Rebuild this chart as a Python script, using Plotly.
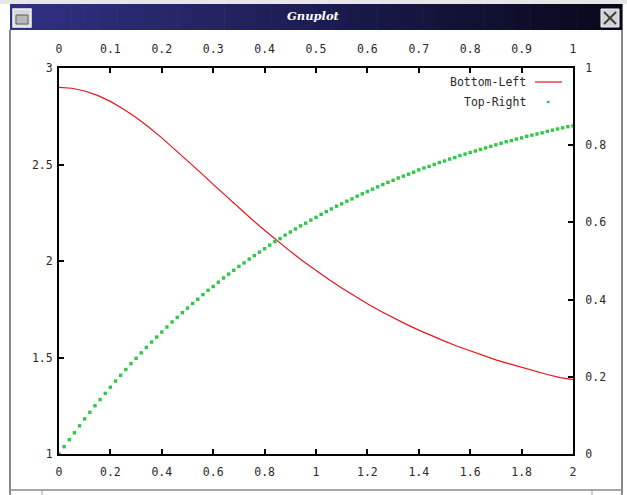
import plotly.graph_objects as go

# ---- data ----
red_x = [0.00, 0.05, 0.10, 0.15, 0.20, 0.25, 0.30, 0.35, 0.40, 0.45,
         0.50, 0.55, 0.60, 0.65, 0.70, 0.75, 0.80, 0.85, 0.90, 0.95,
         1.00, 1.05, 1.10, 1.15, 1.20, 1.25, 1.30, 1.35, 1.40, 1.45,
         1.50, 1.55, 1.60, 1.65, 1.70, 1.75, 1.80, 1.85, 1.90, 1.95, 2.00]
red_y = [2.900, 2.895, 2.881, 2.858, 2.827, 2.788, 2.743, 2.693, 2.638, 2.580,
         2.520, 2.459, 2.397, 2.336, 2.275, 2.216, 2.159, 2.103, 2.050, 1.999,
         1.950, 1.904, 1.860, 1.818, 1.779, 1.741, 1.706, 1.673, 1.642, 1.612,
         1.585, 1.558, 1.534, 1.510, 1.488, 1.468, 1.448, 1.430, 1.412, 1.396, 1.385]

green_x = [0.00, 0.01, 0.02, 0.03, 0.04, 0.05, 0.06, 0.07, 0.08, 0.09,
           0.10, 0.11, 0.12, 0.13, 0.14, 0.15, 0.16, 0.17, 0.18, 0.19,
           0.20, 0.21, 0.22, 0.23, 0.24, 0.25, 0.26, 0.27, 0.28, 0.29,
           0.30, 0.31, 0.32, 0.33, 0.34, 0.35, 0.36, 0.37, 0.38, 0.39,
           0.40, 0.41, 0.42, 0.43, 0.44, 0.45, 0.46, 0.47, 0.48, 0.49,
           0.50, 0.51, 0.52, 0.53, 0.54, 0.55, 0.56, 0.57, 0.58, 0.59,
           0.60, 0.61, 0.62, 0.63, 0.64, 0.65, 0.66, 0.67, 0.68, 0.69,
           0.70, 0.71, 0.72, 0.73, 0.74, 0.75, 0.76, 0.77, 0.78, 0.79,
           0.80, 0.81, 0.82, 0.83, 0.84, 0.85, 0.86, 0.87, 0.88, 0.89,
           0.90, 0.91, 0.92, 0.93, 0.94, 0.95, 0.96, 0.97, 0.98, 0.99, 1.00]
green_y = [0.000, 0.019, 0.037, 0.055, 0.073, 0.091, 0.108, 0.125, 0.141, 0.157,
           0.173, 0.189, 0.204, 0.219, 0.234, 0.248, 0.262, 0.276, 0.290, 0.303,
           0.316, 0.329, 0.342, 0.354, 0.366, 0.378, 0.390, 0.401, 0.413, 0.424,
           0.434, 0.445, 0.456, 0.466, 0.476, 0.486, 0.495, 0.505, 0.514, 0.523,
           0.532, 0.541, 0.550, 0.558, 0.567, 0.575, 0.583, 0.591, 0.598, 0.606,
           0.613, 0.621, 0.628, 0.635, 0.642, 0.648, 0.655, 0.661, 0.668, 0.674,
           0.680, 0.686, 0.692, 0.698, 0.704, 0.709, 0.715, 0.720, 0.725, 0.730,
           0.736, 0.741, 0.745, 0.750, 0.755, 0.759, 0.764, 0.768, 0.773, 0.777,
           0.781, 0.785, 0.789, 0.793, 0.797, 0.801, 0.805, 0.809, 0.812, 0.816,
           0.819, 0.823, 0.826, 0.829, 0.832, 0.836, 0.839, 0.842, 0.845, 0.848, 0.850]

series_names = ["Bottom-Left", "Top-Right"]
window_title = "Gnuplot"

# ---- layout geometry ----
W, H = 627, 495
L, R, T, B = 59, 573, 68, 454          # plot box in pixels
PW, PH = R - L, B - T


def px(x):
    return (x - L) / PW


def py(y):
    return (B - y) / PH


FONT = "DejaVu Sans Mono"
TXT = "#2a2a2a"
RED = "#e8141e"
GREEN = "#2cc846"

fig = go.Figure()
fig.add_trace(go.Scatter(x=red_x, y=red_y, mode="lines", name=series_names[0],
                         line=dict(color=RED, width=1.2), xaxis="x", yaxis="y",
                         showlegend=False))
fig.add_trace(go.Scatter(x=green_x, y=green_y, mode="markers", name=series_names[1],
                         marker=dict(color=GREEN, size=3.4, symbol="square",
                                     line=dict(width=0)),
                         xaxis="x2", yaxis="y2", showlegend=False))

axis_common = dict(showgrid=False, zeroline=False, showline=True, linecolor="black",
                   linewidth=2, ticks="inside", ticklen=5, tickwidth=2,
                   tickcolor="black", tickfont=dict(family=FONT, size=11.5, color=TXT))

fig.update_layout(
    width=W, height=H,
    margin=dict(l=L, r=W - R, t=T, b=H - B, pad=0),
    paper_bgcolor="white", plot_bgcolor="white",
    xaxis=dict(range=[0, 2], dtick=0.2, tick0=0, ticklabelstandoff=6, **axis_common),
    xaxis2=dict(range=[0, 1], dtick=0.1, tick0=0, overlaying="x", side="top",
                anchor="y", ticklabelstandoff=8, **axis_common),
    yaxis=dict(range=[1, 3], dtick=0.5, tick0=1, ticklabelstandoff=2, **axis_common),
    yaxis2=dict(range=[0, 1], dtick=0.2, tick0=0, overlaying="y", side="right",
                anchor="x", ticklabelstandoff=8, **axis_common),
)

shapes = []
annotations = []

# window chrome: title bar gradient strips
x_left, x_right = 10, 622
y_top, y_bot = 4, 30
n = 40
c0 = (48, 48, 132)
c1 = (8, 8, 28)
for i in range(n):
    t = i / (n - 1)
    c = tuple(int(round(c0[k] + (c1[k] - c0[k]) * t)) for k in range(3))
    xa = x_left + (x_right - x_left) * i / n
    xb = x_left + (x_right - x_left) * (i + 1) / n + 0.6
    shapes.append(dict(type="rect", xref="paper", yref="paper",
                       x0=px(xa), x1=px(xb), y0=py(y_bot), y1=py(y_top),
                       fillcolor="rgb(%d,%d,%d)" % c, line=dict(width=0), layer="above"))
# light strip above title bar
shapes.append(dict(type="rect", xref="paper", yref="paper",
                   x0=px(0), x1=px(W), y0=py(y_top), y1=py(0),
                   fillcolor="#e6e6e6", line=dict(width=0), layer="above"))
# left icon
shapes.append(dict(type="rect", xref="paper", yref="paper",
                   x0=px(13), x1=px(31), y0=py(27), y1=py(9),
                   fillcolor="#d8d8d8", line=dict(color="#f4f4f4", width=1.5), layer="above"))
shapes.append(dict(type="rect", xref="paper", yref="paper",
                   x0=px(16), x1=px(28), y0=py(24), y1=py(15),
                   fillcolor="#b8b8b8", line=dict(color="#606060", width=1), layer="above"))
# close button
shapes.append(dict(type="rect", xref="paper", yref="paper",
                   x0=px(601), x1=px(619), y0=py(27), y1=py(9),
                   fillcolor="#d4d4d4", line=dict(color="#f0f0f0", width=1), layer="above"))
shapes.append(dict(type="line", xref="paper", yref="paper",
                   x0=px(604), x1=px(616), y0=py(12), y1=py(24),
                   line=dict(color="#404040", width=2), layer="above"))
shapes.append(dict(type="line", xref="paper", yref="paper",
                   x0=px(604), x1=px(616), y0=py(24), y1=py(12),
                   line=dict(color="#404040", width=2), layer="above"))
# window side frames
shapes.append(dict(type="line", xref="paper", yref="paper",
                   x0=px(10), x1=px(10), y0=py(495), y1=py(30),
                   line=dict(color="#8a8a8a", width=2), layer="above"))
shapes.append(dict(type="line", xref="paper", yref="paper",
                   x0=px(622), x1=px(622), y0=py(495), y1=py(30),
                   line=dict(color="#8a8a8a", width=2), layer="above"))
# bottom status line
shapes.append(dict(type="line", xref="paper", yref="paper",
                   x0=px(10), x1=px(622), y0=py(490), y1=py(490),
                   line=dict(color="#8a8a8a", width=1.5), layer="above"))
shapes.append(dict(type="line", xref="paper", yref="paper",
                   x0=px(42), x1=px(42), y0=py(495), y1=py(490),
                   line=dict(color="#9a9a9a", width=1), layer="above"))
shapes.append(dict(type="line", xref="paper", yref="paper",
                   x0=px(592), x1=px(592), y0=py(495), y1=py(490),
                   line=dict(color="#9a9a9a", width=1), layer="above"))

annotations.append(dict(text="<b><i>%s</i></b>" % window_title, xref="paper", yref="paper",
                        x=px(313), y=py(16), xanchor="center", yanchor="middle",
                        showarrow=False, font=dict(family="DejaVu Serif", size=11.5, color="white")))

# legend (gnuplot style: text then sample)
annotations.append(dict(text=series_names[0], xref="paper", yref="paper",
                        x=px(528), y=py(82), xanchor="right", yanchor="middle",
                        showarrow=False, font=dict(family=FONT, size=11.5, color=TXT)))
annotations.append(dict(text=series_names[1], xref="paper", yref="paper",
                        x=px(528), y=py(102), xanchor="right", yanchor="middle",
                        showarrow=False, font=dict(family=FONT, size=11.5, color=TXT)))
shapes.append(dict(type="line", xref="paper", yref="paper",
                   x0=px(535), x1=px(562), y0=py(82), y1=py(82),
                   line=dict(color=RED, width=1.2)))
shapes.append(dict(type="rect", xref="paper", yref="paper",
                   x0=px(547), x1=px(549.5), y0=py(103.2), y1=py(100.8),
                   fillcolor=GREEN, line=dict(width=0)))

fig.update_layout(shapes=shapes, annotations=annotations)

fig.write_html("out.html",
               config={"displayModeBar": False},
               post_script="document.body.style.margin='0';document.body.style.padding='0';")
